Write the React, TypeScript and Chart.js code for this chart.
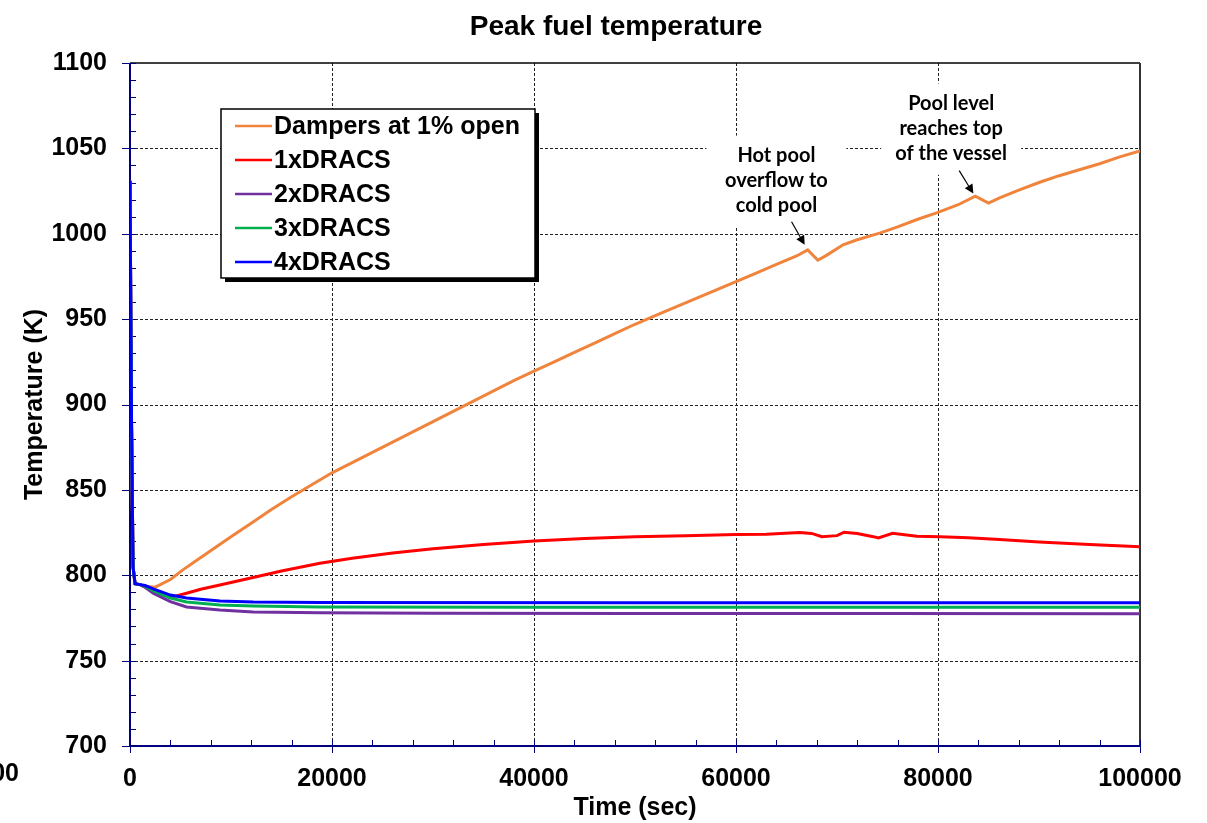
import React, { useEffect, useRef } from "react";
import { Chart, registerables } from "chart.js";

Chart.register(...registerables);

const FONT = '"Liberation Sans", Arial, Helvetica, sans-serif';
const ANNO_FONT = 'Lato, "Open Sans", "Liberation Sans", sans-serif';

// ---- data (time in s, temperature in K) ----
const dampersTime = [0, 150, 300, 500, 1000, 1500, 2500, 4000, 5200, 6900, 10000, 12000, 14000, 16000, 18000, 20000, 22000, 24000, 26000, 28000, 30000, 32000, 34000, 36000, 38000, 40000, 42000, 44000, 46000, 48000, 50000, 52000, 54000, 56000, 58000, 60000, 62000, 64000, 66000, 67100, 68100, 69000, 70600, 72000, 74300, 76000, 78000, 80000, 82000, 83700, 85000, 86100, 88000, 90000, 92000, 94000, 96000, 98000, 100000];
const dampersTemp = [1031, 890, 805, 795, 794.5, 793.5, 793, 797.5, 803, 810, 822.5, 830.5, 838.5, 846, 853, 860, 866, 872, 878, 884, 890, 896, 902, 908, 914, 919.5, 925, 930.5, 936, 941.5, 947, 952, 957, 962, 967, 972, 977, 982, 987, 990.5, 984.5, 987.5, 993.5, 996.5, 1000.5, 1004, 1008.5, 1012.5, 1017, 1022, 1018, 1021, 1025.5, 1030, 1034, 1037.5, 1041, 1045, 1048.5];

const dracs1Time = [0, 150, 300, 500, 1000, 1500, 2300, 3200, 4300, 5600, 7000, 8900, 12400, 15000, 18800, 22000, 26000, 30000, 35000, 40000, 45000, 50000, 55000, 60000, 63000, 66300, 67500, 68500, 70000, 70700, 72000, 73600, 74100, 75500, 77900, 80200, 83000, 86100, 90000, 95000, 100000];
const dracs1Temp = [1031, 890, 805, 795, 794.5, 793, 790, 788.5, 787.5, 789.5, 791.8, 794.3, 799, 802.5, 807, 810, 813, 815.5, 818, 820, 821.5, 822.5, 823.2, 823.8, 824, 825, 824.5, 822.6, 823.2, 825.2, 824.5, 822.6, 821.8, 824.6, 822.8, 822.6, 822, 821, 819.5, 818, 816.7];

const dracs2Time = [0, 150, 300, 500, 1000, 1500, 2300, 4000, 5600, 8900, 12200, 18800, 30000, 50000, 75000, 100000];
const dracs2Temp = [1031, 890, 805, 795, 794.5, 793, 789.5, 784.5, 781.4, 779.6, 778.5, 778, 777.7, 777.6, 777.6, 777.5];

const dracs3Time = [0, 150, 300, 500, 1000, 1500, 2300, 4000, 5600, 8900, 12200, 18800, 40000, 100000];
const dracs3Temp = [1031, 890, 805, 795, 794.5, 793.5, 791, 786.7, 784.3, 782.6, 782, 781.4, 781.3, 781.2];

const dracs4Time = [0, 150, 300, 500, 1000, 1500, 2300, 4000, 5600, 8900, 12200, 18800, 50000, 100000];
const dracs4Temp = [1031, 890, 805, 795, 794.5, 794, 792, 788.4, 786.7, 784.9, 784.3, 784, 783.9, 783.9];

const seriesNames = ["Dampers at 1% open", "1xDRACS", "2xDRACS", "3xDRACS", "4xDRACS"];
const seriesColors = ["#F0843C", "#FF0000", "#7030A0", "#00B050", "#0000FF"];

const xMin = 0, xMax = 100000, xStep = 20000, xMinorStep = 4000;
const yMin = 700, yMax = 1100, yStep = 50, yMinorStep = 10;

const hotPoolLines = ["Hot pool", "overflow to", "cold pool"];
const poolLevelLines = ["Pool level", "reaches top", "of the vessel"];

const pts = (t: number[], v: number[]) => t.map((x, i) => ({ x, y: v[i] }));

function arrow(ctx: CanvasRenderingContext2D, x1: number, y1: number, x2: number, y2: number) {
  const ang = Math.atan2(y2 - y1, x2 - x1);
  const L = 9, W = 4.5;
  const bx = x2 - L * Math.cos(ang), by = y2 - L * Math.sin(ang);
  ctx.beginPath();
  ctx.moveTo(x1, y1);
  ctx.lineTo(bx, by);
  ctx.strokeStyle = "#000";
  ctx.lineWidth = 1.2;
  ctx.stroke();
  ctx.beginPath();
  ctx.moveTo(x2, y2);
  ctx.lineTo(bx + W * Math.sin(ang), by - W * Math.cos(ang));
  ctx.lineTo(bx - W * Math.sin(ang), by + W * Math.cos(ang));
  ctx.closePath();
  ctx.fillStyle = "#000";
  ctx.fill();
}

const framePlugin = {
  id: "frame",
  beforeDatasetsDraw(chart: any) {
    const { ctx, chartArea: a, scales } = chart;
    const x = scales.x, y = scales.y;
    ctx.save();
    // grid
    ctx.strokeStyle = "#222";
    ctx.lineWidth = 1;
    ctx.setLineDash([3, 2]);
    for (let v = xMin + xStep; v < xMax; v += xStep) {
      const px = Math.round(x.getPixelForValue(v)) + 0.5;
      ctx.beginPath(); ctx.moveTo(px, a.top); ctx.lineTo(px, a.bottom); ctx.stroke();
    }
    for (let v = yMin + yStep; v < yMax; v += yStep) {
      const py = Math.round(y.getPixelForValue(v)) + 0.5;
      ctx.beginPath(); ctx.moveTo(a.left, py); ctx.lineTo(a.right, py); ctx.stroke();
    }
    ctx.setLineDash([]);
    // white boxes behind annotations
    ctx.fillStyle = "#fff";
    const hx = x.getPixelForValue(64000);
    ctx.fillRect(hx - 70, y.getPixelForValue(1057.5), 140, y.getPixelForValue(1003.5) - y.getPixelForValue(1057.5));
    const px2 = x.getPixelForValue(81300);
    ctx.fillRect(px2 - 70, y.getPixelForValue(1088), 140, y.getPixelForValue(1034.5) - y.getPixelForValue(1088));
    // frame
    ctx.strokeStyle = "#000";
    ctx.lineWidth = 1.5;
    ctx.beginPath(); ctx.moveTo(a.left, a.top); ctx.lineTo(a.right, a.top); ctx.stroke();
    ctx.strokeStyle = "#333";
    ctx.lineWidth = 2;
    ctx.beginPath(); ctx.moveTo(a.right, a.top); ctx.lineTo(a.right, a.bottom); ctx.stroke();
    // ticks
    ctx.strokeStyle = "#000080";
    ctx.lineWidth = 1;
    for (let v = yMin; v <= yMax; v += yMinorStep) {
      const py = Math.round(y.getPixelForValue(v)) + 0.5;
      const major = (v - yMin) % yStep === 0;
      ctx.beginPath();
      ctx.moveTo(major ? a.left - 8 : a.left, py);
      ctx.lineTo(a.left + 6, py);
      ctx.stroke();
    }
    for (let v = xMin; v <= xMax; v += xMinorStep) {
      const px = Math.round(x.getPixelForValue(v)) + 0.5;
      const major = (v - xMin) % xStep === 0;
      ctx.beginPath();
      ctx.moveTo(px, a.bottom - 6);
      ctx.lineTo(px, major ? a.bottom + 7 : a.bottom);
      ctx.stroke();
    }
    ctx.strokeStyle = "#000080";
    ctx.lineWidth = 2;
    ctx.beginPath(); ctx.moveTo(a.left, a.top); ctx.lineTo(a.left, a.bottom); ctx.lineTo(a.right, a.bottom); ctx.stroke();
    ctx.restore();
  },
  afterDraw(chart: any) {
    const { ctx, scales } = chart;
    const x = scales.x, y = scales.y;
    ctx.save();
    // title
    ctx.fillStyle = "#000";
    ctx.font = `bold 28px ${FONT}`;
    ctx.textAlign = "center";
    ctx.textBaseline = "alphabetic";
    ctx.fillText("Peak fuel temperature", 616, 35);

    // stray label at bottom-left
    ctx.font = `bold 25px ${FONT}`;
    ctx.textAlign = "right";
    ctx.textBaseline = "middle";
    ctx.fillText("700", 19, 774);

    // annotations
    ctx.font = `bold 20px ${ANNO_FONT}`;
    ctx.textAlign = "center";
    ctx.textBaseline = "alphabetic";
    const hx = x.getPixelForValue(64000);
    const hy = y.getPixelForValue(1042);
    hotPoolLines.forEach((s, i) => ctx.fillText(s, hx, hy + i * 25));
    const px2 = x.getPixelForValue(81300);
    const py2 = y.getPixelForValue(1072.5);
    poolLevelLines.forEach((s, i) => ctx.fillText(s, px2, py2 + i * 25));
    arrow(ctx, x.getPixelForValue(65500), y.getPixelForValue(1007), x.getPixelForValue(66800), y.getPixelForValue(993.5));
    arrow(ctx, x.getPixelForValue(82100), y.getPixelForValue(1037), x.getPixelForValue(83500), y.getPixelForValue(1023.5));

    // legend
    const lx = 221, ly = 109, lw = 314, lh = 169;
    ctx.fillStyle = "#000";
    ctx.fillRect(lx + 4, ly + 4, lw, lh);
    ctx.fillStyle = "#fff";
    ctx.fillRect(lx, ly, lw, lh);
    ctx.strokeStyle = "#000";
    ctx.lineWidth = 1.5;
    ctx.strokeRect(lx, ly, lw, lh);
    ctx.font = `bold 25px ${FONT}`;
    ctx.textAlign = "left";
    ctx.textBaseline = "middle";
    seriesNames.forEach((name, i) => {
      const ry = 126 + i * 34;
      ctx.strokeStyle = seriesColors[i];
      ctx.lineWidth = 2.5;
      ctx.beginPath(); ctx.moveTo(235, ry); ctx.lineTo(272, ry); ctx.stroke();
      ctx.fillStyle = "#000";
      ctx.fillText(name, 274, ry + 1);
    });
    ctx.restore();
  },
};

export default function App() {
  const ref = useRef<HTMLCanvasElement>(null);
  useEffect(() => {
    if (!ref.current) return;
    const sets = [
      pts(dampersTime, dampersTemp),
      pts(dracs1Time, dracs1Temp),
      pts(dracs2Time, dracs2Temp),
      pts(dracs3Time, dracs3Temp),
      pts(dracs4Time, dracs4Temp),
    ];
    const chart = new Chart(ref.current, {
      type: "line",
      data: {
        datasets: sets.map((d, i) => ({
          label: seriesNames[i],
          data: d,
          borderColor: seriesColors[i],
          backgroundColor: seriesColors[i],
          borderWidth: 3,
          pointRadius: 0,
          tension: 0,
          fill: false,
          order: 4 - i,
        })),
      },
      options: {
        animation: false,
        responsive: false,
        events: [],
        layout: { padding: { top: 63, right: 67, left: 0, bottom: 0 } },
        plugins: { legend: { display: false }, title: { display: false }, tooltip: { enabled: false } },
        scales: {
          x: {
            type: "linear",
            min: xMin,
            max: xMax,
            grid: { display: false, drawTicks: false },
            border: { display: false },
            ticks: {
              stepSize: xStep,
              padding: 18,
              color: "#000",
              font: { family: FONT, size: 25, weight: "bold" },
              maxRotation: 0,
              callback: (v: any) => String(v),
            },
            title: {
              display: true,
              text: "Time (sec)",
              color: "#000",
              font: { family: FONT, size: 25, weight: "bold" },
              padding: { top: 0, bottom: 0 },
            },
            afterFit: (s: any) => { s.height = 77; },
          },
          y: {
            type: "linear",
            min: yMin,
            max: yMax,
            grid: { display: false, drawTicks: false },
            border: { display: false },
            ticks: {
              stepSize: yStep,
              padding: 23,
              color: "#000",
              font: { family: FONT, size: 25, weight: "bold" },
              callback: (v: any) => String(v),
            },
            title: {
              display: true,
              text: "Temperature (K)",
              color: "#000",
              font: { family: FONT, size: 25, weight: "bold" },
              padding: { top: 20, bottom: 0 },
            },
            afterFit: (s: any) => { s.width = 130; },
          },
        },
      },
      plugins: [framePlugin],
    });
    return () => chart.destroy();
  }, []);
  return (
    <div style={{ position: "absolute", left: 0, top: 0, width: 1207, height: 823, background: "#fff" }}>
      <canvas ref={ref} width={1207} height={823} />
    </div>
  );
}
